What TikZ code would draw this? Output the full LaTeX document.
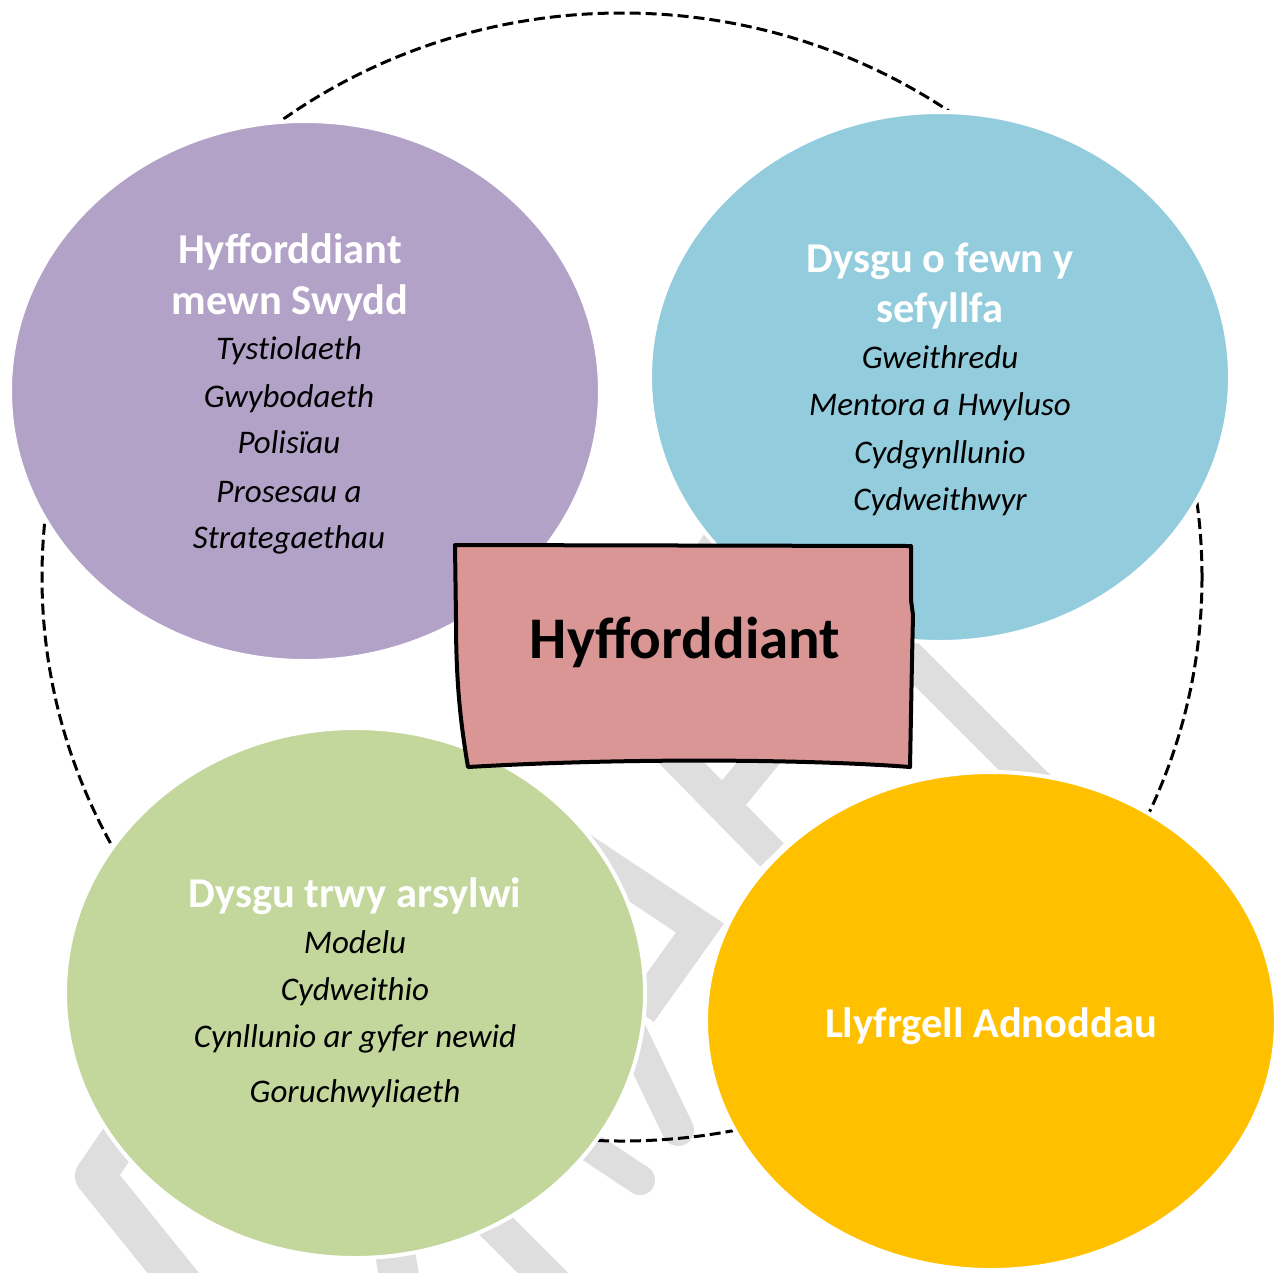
\documentclass[tikz,border=0pt]{standalone}
\usepackage{fontspec}
\setmainfont{Carlito}
\newfontfamily\itemfont{Carlito}[Ligatures=NoCommon]
\usetikzlibrary{shapes.geometric}
\definecolor{cpurple}{HTML}{B3A2C7}
\definecolor{cblue}{HTML}{93CDDD}
\definecolor{cgreen}{HTML}{C3D69B}
\definecolor{cyellow}{HTML}{FFC000}
\definecolor{cpink}{HTML}{D99694}
\definecolor{wmgray}{HTML}{DEDEDE}
\begin{document}
\begin{tikzpicture}[x=1pt,y=-1pt,
  blob/.style={ellipse, draw=white, line width=4pt, inner sep=0pt},
  ttl/.style={anchor=base, text=white, font=\bfseries\fontsize{42.5}{50}\selectfont, inner sep=0pt},
  itm/.style={anchor=base, text=black, font=\itemfont\itshape\fontsize{33}{38}\selectfont, inner sep=0pt},
  wm/.style={draw=wmgray, line width=34pt},
  ring/.style={ellipse, draw=black, line width=3pt, dash pattern=on 11pt off 5pt, inner sep=0pt},
  boxst/.style={draw=black, fill=cpink, line width=4pt, line join=round}
]
\useasboundingbox (0,0) rectangle (1281,1272);
\clip (0,0) rectangle (1281,1272);
\fill[white] (0,0) rectangle (1281,1272);

% watermark fragments
\draw[wm, line width=40pt, line join=round] (140,1110) -- (95,1176) -- (195,1300);
\draw[wm, line width=36pt] (480,1210) -- (565,1295);
\draw[wm, line width=40pt] (393,1240) -- (402,1295);
\draw[wm, line width=30pt, line cap=round] (560,1127) -- (640,1180);
\draw[wm, line width=32pt, line cap=round] (630,1030) -- (678,1130);
\draw[wm, line width=34pt, line join=miter] (560,835) -- (700,928) -- (640,1012);
\draw[wm, line width=33pt] (620,700) -- (772,855);
\draw[wm, line width=34pt] (728,800) -- (800,712);
\draw[wm, line width=33pt] (870,618) -- (1065,813);
\draw[wm, line width=30pt] (705,560) -- (745,500);

% dashed ring
\node[ring, minimum width=1160pt, minimum height=1128pt] (ring) at (622,577) {};

% ellipses
\node[blob, fill=cpurple, minimum width=590pt, minimum height=540pt] (pu) at (305,391) {};
\node[blob, fill=cblue, minimum width=580pt, minimum height=530pt] (bl) at (940,377) {};
\node[blob, fill=cgreen, minimum width=580pt, minimum height=530pt] (gr) at (355,993) {};
\node[blob, fill=cyellow, minimum width=570pt, minimum height=498pt] (ye) at (991,1021) {};

% centre box
\draw[boxst] (455,545) -- (911,546) -- (911,600) -- (913,615) -- (912,660) -- (910,767)
  .. controls (820,760) and (640,757) .. (468,767)
  .. controls (460,720) and (456,680) .. (456,620) -- cycle;
\node[anchor=base, inner sep=0pt, font=\bfseries\fontsize{59}{66}\selectfont] (core) at (685,658) {Hyfforddiant};

% purple texts
\node[ttl] (pt1) at (290,263) {Hyfforddiant};
\node[ttl] (pt2) at (290,314) {mewn Swydd};
\node[itm] (pi1) at (289,359) {Tystiolaeth};
\node[itm] (pi2) at (289,407) {Gwybodaeth};
\node[itm] (pi3) at (289,453) {Polisïau};
\node[itm] (pi4) at (289,502) {Prosesau a};
\node[itm] (pi5) at (289,548) {Strategaethau};

% blue texts
\node[ttl] (bt1) at (940,272) {Dysgu o fewn y};
\node[ttl] (bt2) at (940,322) {sefyllfa};
\node[itm] (bi1) at (940,368) {Gweithredu};
\node[itm] (bi2) at (940,415) {Mentora a Hwyluso};
\node[itm] (bi3) at (940,463) {Cydgynllunio};
\node[itm] (bi4) at (940,510) {Cydweithwyr};

% green texts
\node[ttl] (gt1) at (355,907) {Dysgu trwy arsylwi};
\node[itm] (gi1) at (355,953) {Modelu};
\node[itm] (gi2) at (355,1000) {Cydweithio};
\node[itm] (gi3) at (355,1047) {Cynllunio ar gyfer newid};
\node[itm] (gi4) at (355,1102) {Goruchwyliaeth};

% yellow text
\node[ttl] (yt1) at (991,1037) {Llyfrgell Adnoddau};
\end{tikzpicture}
\end{document}
